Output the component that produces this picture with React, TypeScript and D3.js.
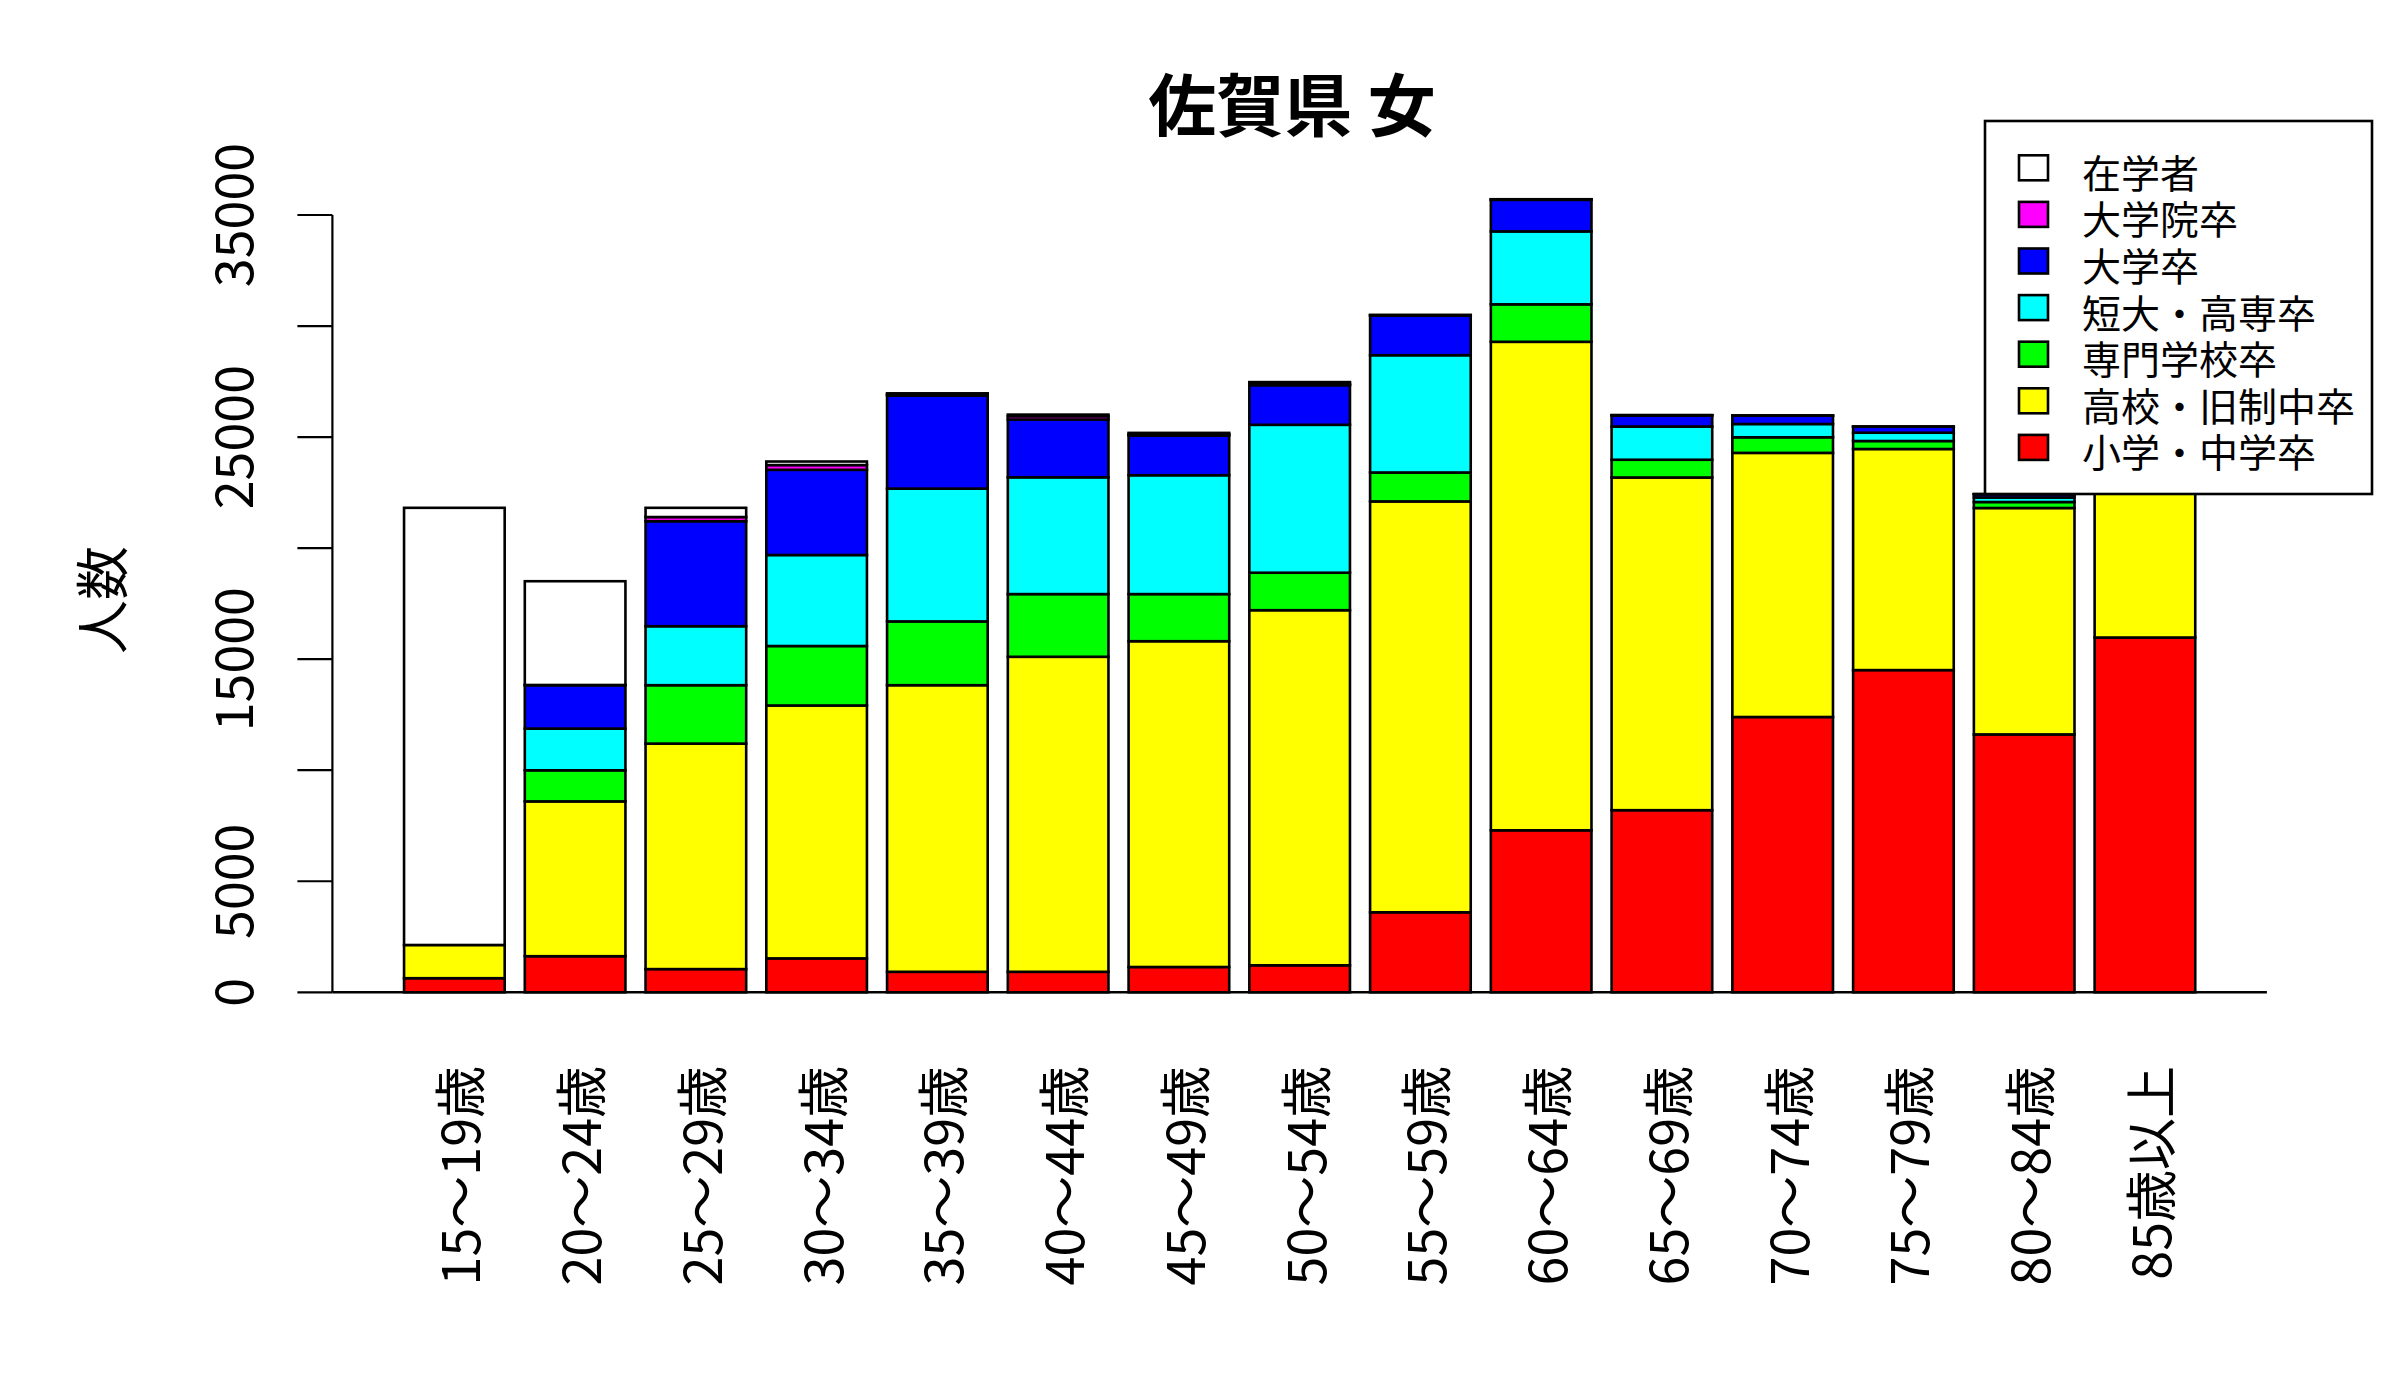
import React from "react";
import * as d3 from "d3";

const categories = [
  "15～19歳", "20～24歳", "25～29歳", "30～34歳", "35～39歳",
  "40～44歳", "45～49歳", "50～54歳", "55～59歳", "60～64歳",
  "65～69歳", "70～74歳", "75～79歳", "80～84歳", "85歳以上",
];

// stacked from bottom
const elementary = [635, 1625, 1045, 1527, 923, 923, 1139, 1216, 3602, 7294, 8200, 12396, 14508, 11612, 15975];
const highSchool = [1495, 6971, 10153, 11387, 12905, 14184, 14670, 15989, 18501, 21996, 14980, 11893, 9955, 10194, 7000];
const vocational = [0, 1400, 2630, 2678, 2872, 2823, 2121, 1688, 1302, 1688, 800, 702, 360, 271, 300];
const juniorCollege = [0, 1878, 2656, 4098, 5980, 5259, 5353, 6660, 5282, 3283, 1495, 598, 374, 203, 200];
const university = [0, 1954, 4727, 3837, 4190, 2603, 1788, 1783, 1787, 1422, 500, 374, 270, 148, 100];
const graduate = [0, 10, 189, 213, 60, 148, 59, 64, 16, 17, 10, 5, 3, 2, 3];
const students = [19685, 4672, 415, 160, 40, 72, 59, 76, 10, 10, 5, 2, 2, 2, 2];

const seriesNames = ["小学・中学卒", "高校・旧制中卒", "専門学校卒", "短大・高専卒", "大学卒", "大学院卒", "在学者"];
const seriesColors = ["#FF0000", "#FFFF00", "#00FF00", "#00FFFF", "#0000FF", "#FF00FF", "#FFFFFF"];
const seriesValues = [elementary, highSchool, vocational, juniorCollege, university, graduate, students];

const yTicks = [0, 5000, 10000, 15000, 20000, 25000, 30000, 35000];
const yTickLabels = ["0", "5000", "", "15000", "", "25000", "", "35000"];

const title = "佐賀県 女";
const yTitle = "人数";

const FONT = "'Noto Sans CJK JP', 'Noto Sans CJK SC', sans-serif";

export default function App() {
  const W = 2400;
  const H = 1400;
  const n = categories.length;
  const space = 0.2;
  const xmin = space;
  const xmax = n * (1 + space);
  const ext = (xmax - xmin) * 0.04;
  const x = d3.scaleLinear().domain([xmin - ext, xmax + ext]).range([332.4, 2266.9]);
  const y = d3.scaleLinear().domain([0, 35000]).range([992.3, 215]);

  const rows = categories.map((c, i) => {
    const vals = seriesValues.map((s) => s[i]);
    const stack: { y0: number; y1: number; color: string }[] = [];
    let acc = 0;
    vals.forEach((v, k) => {
      stack.push({ y0: acc, y1: acc + v, color: seriesColors[k] });
      acc += v;
    });
    return { c, i, stack };
  });

  const legendOrder = [6, 5, 4, 3, 2, 1, 0];

  return (
    <svg
      width={W}
      height={H}
      viewBox={`0 0 ${W} ${H}`}
      style={{ position: "absolute", left: 0, top: 0, background: "#fff" }}
      fontFamily={FONT}
    >
      <rect x={0} y={0} width={W} height={H} fill="#fff" />
      {/* bars */}
      {rows.map(({ c, i, stack }) => {
        const left = space + i * (1 + space);
        const x0 = x(left);
        const x1 = x(left + 1);
        return (
          <g key={c}>
            {stack.map((s, k) => (
              <rect
                key={k}
                x={x0}
                y={y(s.y1)}
                width={x1 - x0}
                height={Math.max(0, y(s.y0) - y(s.y1))}
                fill={s.color}
                stroke="#000"
                strokeWidth={2.6}
              />
            ))}
          </g>
        );
      })}
      {/* baseline */}
      <line x1={x.range()[0]} x2={x.range()[1]} y1={y(0)} y2={y(0)} stroke="#000" strokeWidth={2.4} />
      {/* y axis */}
      <line x1={x.range()[0]} x2={x.range()[0]} y1={y(0)} y2={y(35000)} stroke="#000" strokeWidth={2.2} />
      {yTicks.map((t, k) => (
        <g key={t}>
          <line x1={x.range()[0] - 35} x2={x.range()[0]} y1={y(t)} y2={y(t)} stroke="#000" strokeWidth={2.2} />
          {yTickLabels[k] && (
            <text
              transform={`translate(253,${y(t)}) rotate(-90)`}
              textAnchor="middle"
              fontSize={52}
              fill="#000"
            >
              {yTickLabels[k]}
            </text>
          )}
        </g>
      ))}
      {/* x labels */}
      {categories.map((c, i) => {
        const cx = x(space + i * (1 + space) + 0.5);
        return (
          <text
            key={c}
            transform={`translate(${cx + 26},1066) rotate(-90)`}
            textAnchor="end"
            fontSize={52}
            fill="#000"
          >
            {c}
          </text>
        );
      })}
      {/* title */}
      <text x={1292} y={101} textAnchor="middle" dominantBaseline="central" fontSize={68} fontWeight="bold" fill="#000">
        {title}
      </text>
      {/* y title */}
      <text
        transform={`translate(99,600) rotate(-90)`}
        textAnchor="middle"
        dominantBaseline="central"
        fontSize={54}
        fill="#000"
      >
        {yTitle}
      </text>
      {/* legend */}
      <rect x={1985} y={121} width={2372 - 1985} height={494 - 121} fill="#fff" stroke="#000" strokeWidth={2.6} />
      {legendOrder.map((k, r) => {
        const cy = 167.8 + r * 46.6;
        return (
          <g key={k}>
            <rect x={2019} y={cy - 12.5} width={29} height={25} fill={seriesColors[k]} stroke="#000" strokeWidth={2.6} />
            <text x={2082} y={cy + 3} dominantBaseline="central" fontSize={39} fill="#000">
              {seriesNames[k]}
            </text>
          </g>
        );
      })}
    </svg>
  );
}
